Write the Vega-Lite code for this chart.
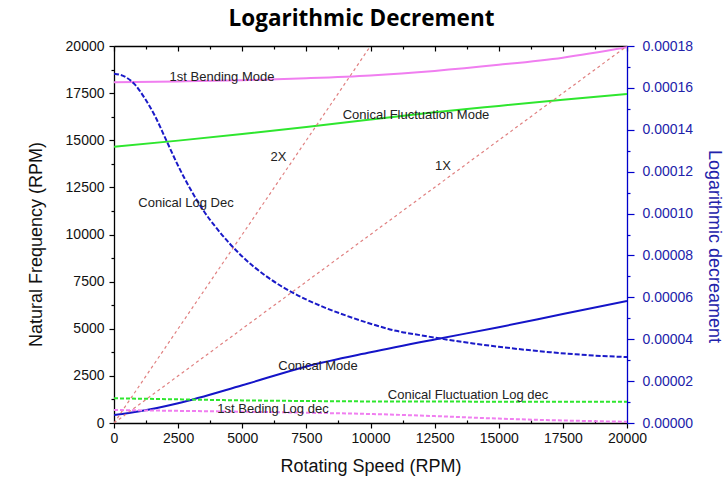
{
  "$schema": "https://vega.github.io/schema/vega-lite/v6.json",
  "width": 513,
  "height": 377,
  "autosize": "none",
  "padding": {"left": 114, "top": 46, "right": 101, "bottom": 75},
  "background": "white",
  "title": {"text": "Logarithmic Decrement", "font": "Open Sans", "fontWeight": "bold", "fontSize": 22.5, "color": "#000", "offset": 9, "dx": -9},
  "config": {
    "view": {"stroke": null},
    "axis": {"labelFont": "Liberation Sans", "titleFont": "Liberation Sans", "labelFontSize": 14, "titleFontSize": 18, "titleFontWeight": "normal", "grid": false, "labelColor": "#111", "titleColor": "#111", "domainColor": "#000", "tickColor": "#000", "domainWidth": 1.3, "tickWidth": 1.2}
  },
  "datasets": {
    "modes": [
      {"series": "1st Bending Mode", "rpm": 0, "freq": 18080},
      {"series": "1st Bending Mode", "rpm": 2500, "freq": 18120},
      {"series": "1st Bending Mode", "rpm": 5000, "freq": 18180},
      {"series": "1st Bending Mode", "rpm": 7500, "freq": 18290},
      {"series": "1st Bending Mode", "rpm": 10000, "freq": 18440},
      {"series": "1st Bending Mode", "rpm": 12500, "freq": 18680},
      {"series": "1st Bending Mode", "rpm": 15000, "freq": 19000},
      {"series": "1st Bending Mode", "rpm": 17500, "freq": 19380},
      {"series": "1st Bending Mode", "rpm": 20000, "freq": 19930},
      {"series": "Conical Fluctuation Mode", "rpm": 0, "freq": 14650},
      {"series": "Conical Fluctuation Mode", "rpm": 2500, "freq": 14980},
      {"series": "Conical Fluctuation Mode", "rpm": 5000, "freq": 15330},
      {"series": "Conical Fluctuation Mode", "rpm": 7500, "freq": 15700},
      {"series": "Conical Fluctuation Mode", "rpm": 10000, "freq": 16100},
      {"series": "Conical Fluctuation Mode", "rpm": 12500, "freq": 16480},
      {"series": "Conical Fluctuation Mode", "rpm": 15000, "freq": 16820},
      {"series": "Conical Fluctuation Mode", "rpm": 17500, "freq": 17150},
      {"series": "Conical Fluctuation Mode", "rpm": 20000, "freq": 17460},
      {"series": "Conical Mode", "rpm": 0, "freq": 420},
      {"series": "Conical Mode", "rpm": 1000, "freq": 620},
      {"series": "Conical Mode", "rpm": 2500, "freq": 1050},
      {"series": "Conical Mode", "rpm": 5000, "freq": 2000},
      {"series": "Conical Mode", "rpm": 7500, "freq": 3000},
      {"series": "Conical Mode", "rpm": 10000, "freq": 3750},
      {"series": "Conical Mode", "rpm": 12500, "freq": 4430},
      {"series": "Conical Mode", "rpm": 15000, "freq": 5080},
      {"series": "Conical Mode", "rpm": 17500, "freq": 5780},
      {"series": "Conical Mode", "rpm": 20000, "freq": 6470}
    ],
    "ratios": [
      {"series": "1X", "rpm": 0, "freq": 0},
      {"series": "1X", "rpm": 20000, "freq": 20000},
      {"series": "2X", "rpm": 0, "freq": 0},
      {"series": "2X", "rpm": 10000, "freq": 20000}
    ],
    "logdec": [
      {"series": "Conical Log Dec", "rpm": 0, "ld": 0.0001668},
      {"series": "Conical Log Dec", "rpm": 400, "ld": 0.0001655},
      {"series": "Conical Log Dec", "rpm": 800, "ld": 0.0001618},
      {"series": "Conical Log Dec", "rpm": 1200, "ld": 0.000155},
      {"series": "Conical Log Dec", "rpm": 1600, "ld": 0.0001465},
      {"series": "Conical Log Dec", "rpm": 2000, "ld": 0.000136},
      {"series": "Conical Log Dec", "rpm": 2500, "ld": 0.0001228},
      {"series": "Conical Log Dec", "rpm": 3000, "ld": 0.0001112},
      {"series": "Conical Log Dec", "rpm": 3500, "ld": 0.0001012},
      {"series": "Conical Log Dec", "rpm": 4000, "ld": 0.0000930},
      {"series": "Conical Log Dec", "rpm": 5000, "ld": 0.0000795},
      {"series": "Conical Log Dec", "rpm": 6000, "ld": 0.0000695},
      {"series": "Conical Log Dec", "rpm": 7000, "ld": 0.0000620},
      {"series": "Conical Log Dec", "rpm": 8000, "ld": 0.0000562},
      {"series": "Conical Log Dec", "rpm": 9000, "ld": 0.0000515},
      {"series": "Conical Log Dec", "rpm": 10000, "ld": 0.0000474},
      {"series": "Conical Log Dec", "rpm": 11000, "ld": 0.0000440},
      {"series": "Conical Log Dec", "rpm": 12000, "ld": 0.0000418},
      {"series": "Conical Log Dec", "rpm": 13000, "ld": 0.0000398},
      {"series": "Conical Log Dec", "rpm": 14000, "ld": 0.0000380},
      {"series": "Conical Log Dec", "rpm": 15000, "ld": 0.0000364},
      {"series": "Conical Log Dec", "rpm": 16000, "ld": 0.0000350},
      {"series": "Conical Log Dec", "rpm": 17000, "ld": 0.0000338},
      {"series": "Conical Log Dec", "rpm": 18000, "ld": 0.0000328},
      {"series": "Conical Log Dec", "rpm": 19000, "ld": 0.0000320},
      {"series": "Conical Log Dec", "rpm": 20000, "ld": 0.0000315},
      {"series": "Conical Fluctuation Log dec", "rpm": 0, "ld": 0.0000118},
      {"series": "Conical Fluctuation Log dec", "rpm": 2500, "ld": 0.0000113},
      {"series": "Conical Fluctuation Log dec", "rpm": 5000, "ld": 0.0000108},
      {"series": "Conical Fluctuation Log dec", "rpm": 7500, "ld": 0.0000105},
      {"series": "Conical Fluctuation Log dec", "rpm": 10000, "ld": 0.0000103},
      {"series": "Conical Fluctuation Log dec", "rpm": 15000, "ld": 0.0000102},
      {"series": "Conical Fluctuation Log dec", "rpm": 20000, "ld": 0.0000102}
    ],
    "beding": [
      {"series": "1st Beding Log dec", "rpm": 0, "ld": 0.0000062},
      {"series": "1st Beding Log dec", "rpm": 2500, "ld": 0.0000058},
      {"series": "1st Beding Log dec", "rpm": 5000, "ld": 0.0000054},
      {"series": "1st Beding Log dec", "rpm": 7500, "ld": 0.0000049},
      {"series": "1st Beding Log dec", "rpm": 10000, "ld": 0.0000043},
      {"series": "1st Beding Log dec", "rpm": 12500, "ld": 0.0000033},
      {"series": "1st Beding Log dec", "rpm": 15000, "ld": 0.0000021},
      {"series": "1st Beding Log dec", "rpm": 17500, "ld": 0.0000012},
      {"series": "1st Beding Log dec", "rpm": 20000, "ld": 0.0000006}
    ],
    "labels": [
      {"label": "1st Bending Mode", "rpm": 4211, "freq": 18371},
      {"label": "Conical Fluctuation Mode", "rpm": 11774, "freq": 16340},
      {"label": "2X", "rpm": 6413, "freq": 14095},
      {"label": "1X", "rpm": 12827, "freq": 13634},
      {"label": "Conical Log Dec", "rpm": 2807, "freq": 11687},
      {"label": "Conical  Mode", "rpm": 7953, "freq": 3042},
      {"label": "Conical Fluctuation Log dec", "rpm": 13801, "freq": 1485},
      {"label": "1st Beding Log dec", "rpm": 6199, "freq": 726}
    ]
  },
  "layer": [
    {
      "data": {"name": "modes"},
      "mark": {"type": "line", "interpolate": "monotone", "strokeWidth": 2, "clip": true},
      "encoding": {
        "x": {"field": "rpm", "type": "quantitative", "scale": {"domain": [0, 20000], "nice": false},
          "axis": {"orient": "bottom", "values": [0, 2500, 5000, 7500, 10000, 12500, 15000, 17500, 20000], "format": "d", "title": "Rotating Speed (RPM)", "tickSize": 5, "labelPadding": 3, "titlePadding": 12, "labelFlush": false, "labelOverlap": false}},
        "y": {"field": "freq", "type": "quantitative", "scale": {"domain": [0, 20000], "nice": false},
          "axis": {"orient": "left", "values": [0, 2500, 5000, 7500, 10000, 12500, 15000, 17500, 20000], "format": "d", "title": "Natural Frequency (RPM)", "tickSize": 5, "labelPadding": 5, "titlePadding": 20, "titleY": 198, "labelOverlap": false}},
        "color": {"field": "series", "type": "nominal", "legend": null,
          "scale": {"domain": ["1st Bending Mode", "Conical Fluctuation Mode", "Conical Mode"], "range": ["#f07ef0", "#2ee62e", "#1414c8"]}}
      }
    },
    {
      "data": {"name": "ratios"},
      "mark": {"type": "line", "strokeWidth": 1.2, "strokeDash": [3, 3], "color": "#e08080", "clip": true},
      "encoding": {
        "x": {"field": "rpm", "type": "quantitative",
          "axis": {"orient": "bottom", "values": [1250, 3750, 6250, 8750, 11250, 13750, 16250, 18750], "labels": false, "domain": false, "title": null, "tickSize": -3}},
        "y": {"field": "freq", "type": "quantitative", "scale": {"domain": [0, 20000], "nice": false},
          "axis": {"orient": "left", "values": [1250, 3750, 6250, 8750, 11250, 13750, 16250, 18750], "labels": false, "domain": false, "title": null, "tickSize": 3}},
        "detail": {"field": "series", "type": "nominal"}
      }
    },
    {
      "data": {"name": "logdec"},
      "mark": {"type": "line", "interpolate": "monotone", "strokeWidth": 2, "clip": true},
      "encoding": {
        "x": {"field": "rpm", "type": "quantitative",
          "axis": {"orient": "top", "values": [0, 2500, 5000, 7500, 10000, 12500, 15000, 17500, 20000], "labels": false, "title": null, "tickSize": -5}},
        "y": {"field": "ld", "type": "quantitative", "scale": {"domain": [0, 0.00018], "nice": false},
          "axis": {"orient": "right", "values": [0, 0.00002, 0.00004, 0.00006, 0.00008, 0.0001, 0.00012, 0.00014, 0.00016, 0.00018], "format": ".5f", "title": "Logarithmic decreament", "tickSize": 7, "labelPadding": 8, "titlePadding": 12, "titleY": 200, "domainColor": "#0000cc", "tickColor": "#0000cc", "labelColor": "#2222aa", "titleColor": "#2222aa", "labelOverlap": false}},
        "color": {"field": "series", "type": "nominal", "legend": null,
          "scale": {"domain": ["Conical Log Dec", "Conical Fluctuation Log dec"], "range": ["#1a1ac8", "#2ee62e"]}},
        "strokeDash": {"field": "series", "type": "nominal", "legend": null,
          "scale": {"domain": ["Conical Log Dec", "Conical Fluctuation Log dec"], "range": [[5, 2], [4, 2]]}}
      }
    },
    {
      "data": {"name": "beding"},
      "mark": {"type": "line", "interpolate": "monotone", "strokeWidth": 2, "strokeDash": [4, 2], "color": "#f07ef0", "clip": true},
      "encoding": {
        "x": {"field": "rpm", "type": "quantitative",
          "axis": {"orient": "top", "values": [1250, 3750, 6250, 8750, 11250, 13750, 16250, 18750], "labels": false, "domain": false, "title": null, "tickSize": -3}},
        "y": {"field": "ld", "type": "quantitative", "scale": {"domain": [0, 0.00018], "nice": false},
          "axis": {"orient": "right", "values": [0.00001, 0.00003, 0.00005, 0.00007, 0.00009, 0.00011, 0.00013, 0.00015, 0.00017], "labels": false, "domain": false, "title": null, "tickSize": 3, "tickColor": "#0000cc"}}
      }
    },
    {
      "data": {"name": "labels"},
      "mark": {"type": "text", "font": "Liberation Sans", "fontSize": 13, "color": "#222", "align": "center", "baseline": "middle"},
      "encoding": {
        "x": {"field": "rpm", "type": "quantitative", "axis": null},
        "y": {"field": "freq", "type": "quantitative", "scale": {"domain": [0, 20000], "nice": false}, "axis": null},
        "text": {"field": "label"}
      }
    }
  ],
  "resolve": {"scale": {"y": "independent", "color": "independent", "strokeDash": "independent"}, "axis": {"x": "independent", "y": "independent"}}
}
